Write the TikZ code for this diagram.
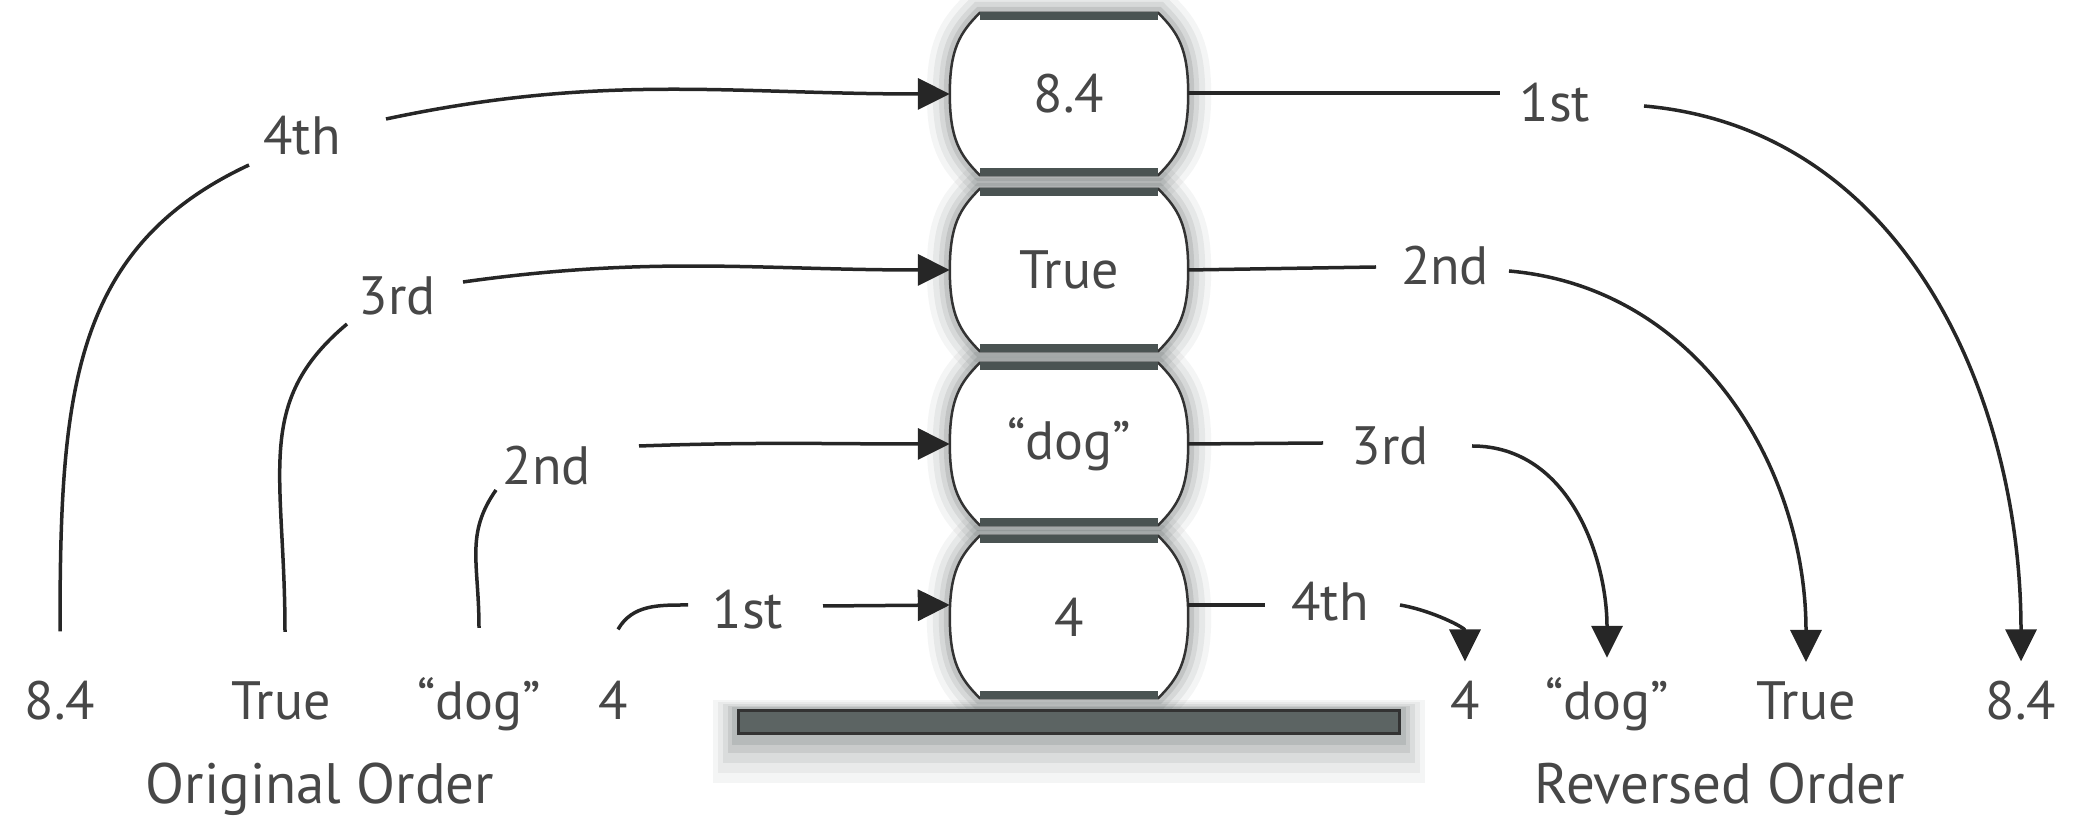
\documentclass[tikz,border=0pt]{standalone}
\usepackage{fontspec}
\setmainfont{PT Sans}
\usetikzlibrary{arrows.meta,calc,backgrounds}
\definecolor{slate}{HTML}{4A5352}
\definecolor{basefill}{HTML}{5C6463}
\definecolor{halo}{HTML}{2E3838}
\begin{document}
\begin{tikzpicture}[x=1pt,y=1pt,
  txt/.style={text=black!72, font=\fontsize{54}{60}\selectfont, inner sep=0pt},
  title/.style={txt, font=\fontsize{57}{62}\selectfont},
  slot/.style={txt, minimum width=238pt, minimum height=162pt},
  conn/.style={line width=3.5pt, draw=black!85},
  arr/.style={conn, -{Triangle[length=32pt,width=31pt]}},
  barrel/.style={insert path={($(#1.north west)+(30,0)$) -- ($(#1.north east)+(-30,0)$)
     .. controls ($(#1.north east)+(-10,-20)$) and ($(#1.east)+(0,45)$) .. (#1.east)
     .. controls ($(#1.east)+(0,-45)$) and ($(#1.south east)+(-10,20)$) .. ($(#1.south east)+(-30,0)$)
     -- ($(#1.south west)+(30,0)$)
     .. controls ($(#1.south west)+(10,20)$) and ($(#1.west)+(0,-45)$) .. (#1.west)
     .. controls ($(#1.west)+(0,45)$) and ($(#1.north west)+(10,-20)$) .. cycle}},
  band/.style={line width=8pt, draw=slate},
]
\useasboundingbox (0,0) rectangle (2075,818);

% stack slots
\node[slot] (s84) at (1069,724) {8.4};
\node[slot] (sT)  at (1069,548) {True};
\node[slot] (sd)  at (1069,374) {“dog”};
\node[slot] (s4)  at (1069,201) {4};

% base
\node[draw=black!80, fill=basefill, line width=3pt,
      minimum width=661pt, minimum height=23pt, inner sep=0pt] (base) at (1068.5,95.5) {};

\begin{scope}[on background layer]
  % base shadow
  \foreach \d/\o in {48/0.05,38/0.06,28/0.08,18/0.10,10/0.12} {
    \fill[halo, opacity=\o] ($(base.south west)+(-0.5*\d,-\d)$) rectangle ($(base.north east)+(0.5*\d,0.2*\d)$);
  }
  % halos
  \foreach \n in {s84,sT,sd,s4} {
    \foreach \w/\o in {46/0.05,34/0.07,22/0.09,12/0.12} {
      \path[draw=halo, line width=\w pt, opacity=\o, barrel=\n];
    }
  }
  \foreach \n in {s84,sT,sd,s4} {
    \path[fill=white, draw=black!80, line width=2.5pt, barrel=\n];
    \draw[band] ($(\n.north west)+(30,-3)$) -- ($(\n.north east)+(-30,-3)$);
    \draw[band] ($(\n.south west)+(30,3)$) -- ($(\n.south east)+(-30,3)$);
  }
\end{scope}

% bottom labels
\node[txt, anchor=base] (o84) at (60,98) {8.4};
\node[txt, anchor=base] (oT)  at (281,98) {True};
\node[txt, anchor=base] (od)  at (479,98) {“dog”};
\node[txt, anchor=base] (o4)  at (613,98) {4};
\node[txt, anchor=base] (r4)  at (1465,98) {4};
\node[txt, anchor=base] (rd)  at (1607,98) {“dog”};
\node[txt, anchor=base] (rT)  at (1806,98) {True};
\node[txt, anchor=base] (r84) at (2021,98) {8.4};
\node[title, anchor=base] (orig) at (320,14) {Original Order};
\node[title, anchor=base] (rev)  at (1720,14) {Reversed Order};

% ordinal labels
\node[txt] (a4) at (302,682) {4th};
\node[txt] (a3) at (397,522) {3rd};
\node[txt] (a2) at (547,352) {2nd};
\node[txt] (a1) at (748,208) {1st};
\node[txt] (b1) at (1555,715) {1st};
\node[txt] (b2) at (1445,552) {2nd};
\node[txt] (b3) at (1390,372) {3rd};
\node[txt] (b4) at (1330,216) {4th};

% pushes (left)
\draw[conn] ([yshift=50pt]o84.north) to[out=90,in=205,out looseness=1.2] ([shift={(-53,-29)}]a4.center);
\draw[arr] ([shift={(84,17)}]a4.center) to[out=12,in=180] (s84.west);
\draw[conn] ([xshift=4pt,yshift=50pt]oT.north) to[out=90,in=220,out looseness=1.3] ([shift={(-50,-28)}]a3.center);
\draw[arr] ([shift={(66,14)}]a3.center) to[out=8,in=180] (sT.west);
\draw[conn] ([yshift=50pt]od.north) to[out=90,in=235,out looseness=1.2] ([shift={(-51,-24)}]a2.center);
\draw[arr] ([shift={(92,20)}]a2.center) to[out=2,in=180] (sd.west);
\draw[conn] ([shift={(5,52)}]o4.north) to[out=60,in=180] ([shift={(-60,5)}]a1.center);
\draw[arr] ([shift={(75,4)}]a1.center) -- ([yshift=12pt]s4.west);

% pops (right)
\draw[conn] ([yshift=1pt]s84.east) -- ([shift={(-55,10)}]b1.center);
\draw[arr] ([shift={(89,-3)}]b1.center) to[out=-5,in=90] ([yshift=20pt]r84.north);
\draw[conn] (sT.east) -- ([shift={(-69,-1)}]b2.center);
\draw[arr] ([shift={(64,-5)}]b2.center) to[out=-5,in=90] ([yshift=20pt]rT.north);
\draw[conn] (sd.east) -- ([shift={(-67,3)}]b3.center);
\draw[arr] ([shift={(82,0)}]b3.center) to[out=0,in=90] ([yshift=20pt]rd.north);
\draw[conn] ([yshift=12pt]s4.east) -- ([shift={(-65,-3)}]b4.center);
\draw[arr] ([shift={(70,-3)}]b4.center) to[out=-10,in=90] ([yshift=20pt]r4.north);
\end{tikzpicture}
\end{document}
